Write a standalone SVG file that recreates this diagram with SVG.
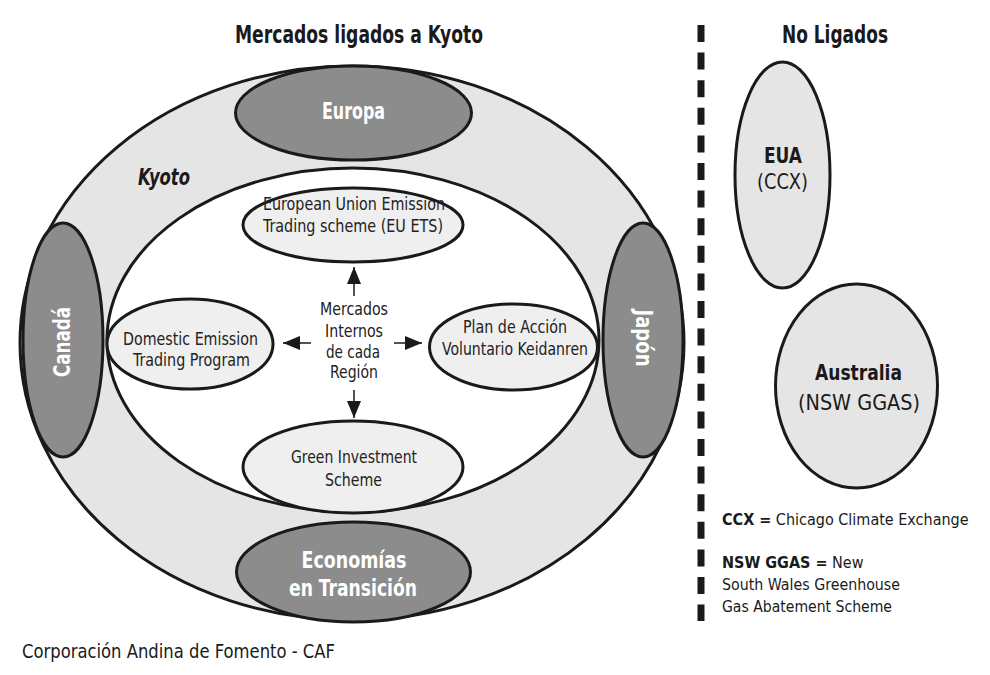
<svg xmlns="http://www.w3.org/2000/svg" width="990" height="675" viewBox="0 0 990 675">
<style>
text{font-family:"Liberation Sans Narrow","DejaVu Sans Condensed","Liberation Sans",Arial,sans-serif;fill:#1a1a1a}
.t{font-size:24px;font-weight:bold;text-anchor:middle}
.big{font-size:23px;font-weight:bold;fill:#ffffff;text-anchor:middle}
.lab{font-size:17px;text-anchor:middle;fill:#222}
.rb{font-size:21px;font-weight:bold;text-anchor:middle}
.rr{font-size:21px;text-anchor:middle}
.lg{font-size:16px}
.b{font-weight:bold}
.ring{fill:#e5e5e5;stroke:#1a1a1a;stroke-width:3}
.dark{fill:#8c8c8c;stroke:#1a1a1a;stroke-width:3}
.node{fill:#efefef;stroke:#1a1a1a;stroke-width:3}
.arr{stroke:#1a1a1a;stroke-width:1.5;fill:none;marker-end:url(#ah)}
</style>
<defs>
<marker id="ah" markerUnits="userSpaceOnUse" markerWidth="17" markerHeight="14" refX="17" refY="7" orient="auto">
<path d="M0,0 L17,7 L0,14 z" fill="#1a1a1a"/>
</marker>
</defs>
<rect width="990" height="675" fill="#ffffff"/>

<text class="t" x="359" y="43" textLength="248" lengthAdjust="spacingAndGlyphs">Mercados ligados a Kyoto</text>
<text class="t" x="835" y="43" textLength="106" lengthAdjust="spacingAndGlyphs">No Ligados</text>

<g id="kyoto">
<ellipse class="ring" cx="352" cy="343" rx="332" ry="277"/>
<text x="138" y="185" style="font-size:23px;font-weight:bold;font-style:italic" textLength="52" lengthAdjust="spacingAndGlyphs">Kyoto</text>
</g>
<g id="internal">
<ellipse cx="353" cy="340" rx="246" ry="172" fill="#ffffff" stroke="#1a1a1a" stroke-width="3"/>
</g>

<g id="europa">
<ellipse class="dark" cx="353.5" cy="113" rx="118" ry="47"/>
<text class="big" x="353.5" y="119" textLength="63" lengthAdjust="spacingAndGlyphs">Europa</text>
</g>
<g id="economias">
<ellipse class="dark" cx="353.5" cy="572" rx="117" ry="50"/>
<text class="big" x="354" y="568" textLength="105" lengthAdjust="spacingAndGlyphs">Economías</text>
<text class="big" x="353" y="596" textLength="128" lengthAdjust="spacingAndGlyphs">en Transición</text>
</g>
<g id="canada">
<ellipse class="dark" cx="63" cy="340" rx="40" ry="117"/>
<text class="big" transform="translate(70,342) rotate(-90)" x="0" y="0" textLength="70" lengthAdjust="spacingAndGlyphs">Canadá</text>
</g>
<g id="japon">
<ellipse class="dark" cx="643" cy="340" rx="40" ry="117"/>
<text class="big" transform="translate(636,338) rotate(90)" x="0" y="0" textLength="57" lengthAdjust="spacingAndGlyphs">Japón</text>
</g>

<g id="euets">
<ellipse class="node" cx="353" cy="225" rx="110" ry="37"/>
<text class="lab" x="354" y="210" textLength="182" lengthAdjust="spacingAndGlyphs">European Union Emission</text>
<text class="lab" x="353" y="232" textLength="180" lengthAdjust="spacingAndGlyphs">Trading scheme (EU ETS)</text>
</g>
<g id="domestic">
<ellipse class="node" cx="190" cy="344" rx="83" ry="45"/>
<text class="lab" x="190.5" y="345" textLength="135" lengthAdjust="spacingAndGlyphs">Domestic Emission</text>
<text class="lab" x="191.5" y="366" textLength="117" lengthAdjust="spacingAndGlyphs">Trading Program</text>
</g>
<g id="keidanren">
<ellipse class="node" cx="513.5" cy="347" rx="84" ry="43"/>
<text class="lab" x="515" y="333" textLength="104" lengthAdjust="spacingAndGlyphs">Plan de Acción</text>
<text class="lab" x="515" y="355" textLength="146" lengthAdjust="spacingAndGlyphs">Voluntario Keidanren</text>
</g>
<g id="green">
<ellipse class="node" cx="353" cy="467" rx="110" ry="46"/>
<text class="lab" x="354" y="463" textLength="126" lengthAdjust="spacingAndGlyphs">Green Investment</text>
<text class="lab" x="353.5" y="486" textLength="57" lengthAdjust="spacingAndGlyphs">Scheme</text>
</g>
<g id="mercados">
<text class="lab" x="354" y="315" textLength="68" lengthAdjust="spacingAndGlyphs">Mercados</text>
<text class="lab" x="354" y="337" textLength="58" lengthAdjust="spacingAndGlyphs">Internos</text>
<text class="lab" x="353" y="358" textLength="54" lengthAdjust="spacingAndGlyphs">de cada</text>
<text class="lab" x="354" y="378" textLength="48" lengthAdjust="spacingAndGlyphs">Región</text>
</g>

<g id="connectors">
<line class="arr" x1="354" y1="296" x2="354" y2="267"/>
<line class="arr" x1="311" y1="343" x2="283" y2="343"/>
<line class="arr" x1="394" y1="343" x2="422" y2="343"/>
<line class="arr" x1="354" y1="390" x2="354" y2="418"/>
</g>

<line x1="701" y1="25" x2="701" y2="621" stroke="#1a1a1a" stroke-width="7" stroke-dasharray="17 10.6"/>

<g id="eua">
<ellipse class="ring" cx="782.5" cy="175" rx="47.5" ry="113"/>
<text class="rb" x="783" y="163" textLength="38" lengthAdjust="spacingAndGlyphs">EUA</text>
<text class="rr" x="782.5" y="189" textLength="51" lengthAdjust="spacingAndGlyphs">(CCX)</text>
</g>
<g id="australia">
<ellipse class="ring" cx="856.5" cy="386" rx="81" ry="102"/>
<text class="rb" x="858.5" y="380" textLength="87" lengthAdjust="spacingAndGlyphs">Australia</text>
<text class="rr" x="859" y="410" textLength="122" lengthAdjust="spacingAndGlyphs">(NSW GGAS)</text>
</g>

<g id="legend">
<text class="lg" x="722" y="525"><tspan class="b">CCX =</tspan> Chicago Climate Exchange</text>
<text class="lg" x="722" y="568"><tspan class="b">NSW GGAS =</tspan> New</text>
<text class="lg" x="722" y="590" textLength="178" lengthAdjust="spacingAndGlyphs">South Wales Greenhouse</text>
<text class="lg" x="722" y="612" textLength="170" lengthAdjust="spacingAndGlyphs">Gas Abatement Scheme</text>
</g>

<text x="22" y="658" style="font-size:20px" textLength="313" lengthAdjust="spacingAndGlyphs">Corporación Andina de Fomento - CAF</text>
</svg>
